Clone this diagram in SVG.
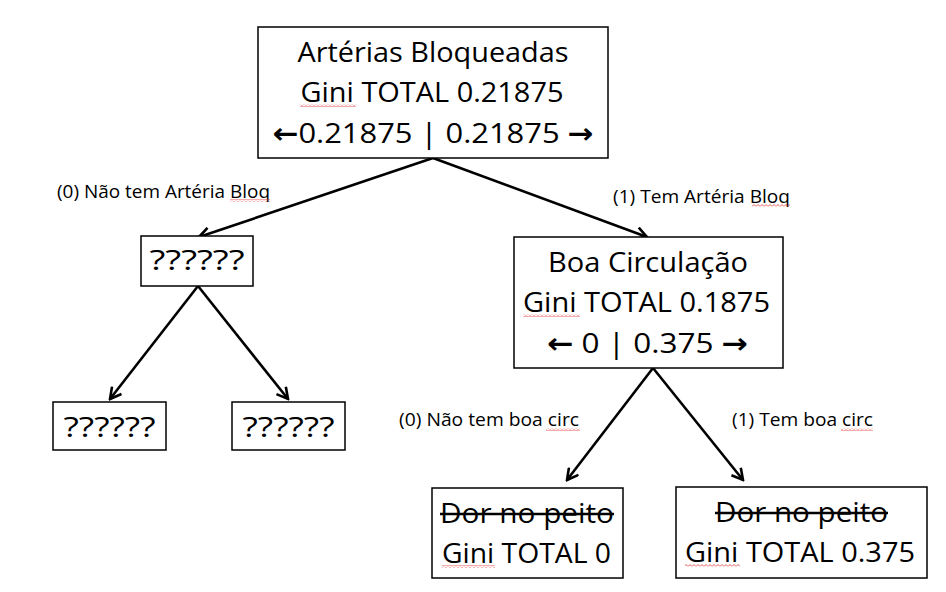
<svg xmlns="http://www.w3.org/2000/svg" width="946" height="592" viewBox="0 0 946 592">
<style>
.box{fill:#fff;stroke:#000;stroke-width:1.5}
.t{font-family:"Open Sans","Liberation Sans",sans-serif;font-size:28px;fill:#000;text-anchor:middle}
.l{font-family:"Open Sans","Liberation Sans",sans-serif;font-size:18px;fill:#000}
.ar{font-family:"DejaVu Sans",sans-serif;font-weight:bold;font-size:28px}
.c{fill:none;stroke:#000;stroke-width:2.6}
.strike{stroke:#000;stroke-width:2.4}
.wv{fill:url(#wavy)}
</style>
<defs>
<marker id="ah" markerWidth="14" markerHeight="14" refX="12" refY="7" orient="auto" markerUnits="userSpaceOnUse">
<path d="M1,1 L12,7 L1,13" fill="none" stroke="#000" stroke-width="2.6"/>
</marker>
<pattern id="wavy" width="4" height="3" patternUnits="userSpaceOnUse">
<path d="M0,2.5 L2,0.5 L4,2.5" fill="none" stroke="#e03030" stroke-width="0.8"/>
</pattern>
</defs>
<rect width="946" height="592" fill="#fff"/>
<g id="connectors">
<line class="c" x1="433" y1="158" x2="199" y2="237" marker-end="url(#ah)"/>
<line class="c" x1="433" y1="158" x2="647" y2="237" marker-end="url(#ah)"/>
<line class="c" x1="198" y1="286" x2="110" y2="399" marker-end="url(#ah)"/>
<line class="c" x1="198" y1="286" x2="288" y2="399" marker-end="url(#ah)"/>
<line class="c" x1="653" y1="368" x2="567" y2="480" marker-end="url(#ah)"/>
<line class="c" x1="653" y1="368" x2="743" y2="480" marker-end="url(#ah)"/>
<text class="l" x="57" y="198" textLength="213" lengthAdjust="spacingAndGlyphs">(0) Não tem Artéria Bloq</text>
<rect class="wv" x="230" y="199" width="40" height="3"/>
<text class="l" x="613" y="203" textLength="177" lengthAdjust="spacingAndGlyphs">(1) Tem Artéria Bloq</text>
<rect class="wv" x="752" y="204" width="38" height="3"/>
<text class="l" x="399" y="426" textLength="180" lengthAdjust="spacingAndGlyphs">(0) Não tem boa circ</text>
<rect class="wv" x="546" y="428" width="34" height="3"/>
<text class="l" x="732" y="426" textLength="141" lengthAdjust="spacingAndGlyphs">(1) Tem boa circ</text>
<rect class="wv" x="841" y="428" width="32" height="3"/>
</g>
<g id="root">
<rect class="box" x="258" y="27" width="350" height="131"/>
<text class="t" x="433" y="62" textLength="271" lengthAdjust="spacingAndGlyphs">Artérias Bloqueadas</text>
<text class="t" x="432" y="102" textLength="263" lengthAdjust="spacingAndGlyphs">Gini TOTAL 0.21875</text>
<rect class="wv" x="300" y="104" width="56" height="3"/>
<text class="t" x="433" y="143" textLength="321" lengthAdjust="spacingAndGlyphs"><tspan class="ar">←</tspan>0.21875 | 0.21875 <tspan class="ar">→</tspan></text>
</g>
<g id="unknown-top">
<rect class="box" x="141" y="236" width="112" height="50"/>
<text class="t" x="197" y="270" textLength="95" lengthAdjust="spacingAndGlyphs">??????</text>
</g>
<g id="unknown-left">
<rect class="box" x="53" y="402" width="113" height="48"/>
<text class="t" x="109.5" y="437" textLength="92" lengthAdjust="spacingAndGlyphs">??????</text>
</g>
<g id="unknown-right">
<rect class="box" x="232" y="402" width="113" height="48"/>
<text class="t" x="288.5" y="437" textLength="92" lengthAdjust="spacingAndGlyphs">??????</text>
</g>
<g id="boa-circulacao">
<rect class="box" x="514" y="237" width="269" height="131"/>
<text class="t" x="648" y="272" textLength="200" lengthAdjust="spacingAndGlyphs">Boa Circulação</text>
<text class="t" x="646.5" y="312" textLength="247" lengthAdjust="spacingAndGlyphs">Gini TOTAL 0.1875</text>
<rect class="wv" x="523" y="314" width="57" height="3"/>
<text class="t" x="647.5" y="353" textLength="201" lengthAdjust="spacingAndGlyphs"><tspan class="ar">←</tspan> 0 | 0.375 <tspan class="ar">→</tspan></text>
</g>
<g id="dor-left">
<rect class="box" x="432" y="488" width="191" height="90"/>
<text class="t" x="527" y="523" textLength="174" lengthAdjust="spacingAndGlyphs">Dor no peito</text>
<line class="strike" x1="440" y1="514" x2="614" y2="514"/>
<text class="t" x="526.5" y="563" textLength="169" lengthAdjust="spacingAndGlyphs">Gini TOTAL 0</text>
<rect class="wv" x="442" y="565" width="53" height="3"/>
</g>
<g id="dor-right">
<rect class="box" x="676" y="487" width="251" height="91"/>
<text class="t" x="801.5" y="522" textLength="173" lengthAdjust="spacingAndGlyphs">Dor no peito</text>
<line class="strike" x1="715" y1="513" x2="888" y2="513"/>
<text class="t" x="800" y="562" textLength="230" lengthAdjust="spacingAndGlyphs">Gini TOTAL 0.375</text>
<rect class="wv" x="685" y="564" width="55" height="3"/>
</g>
</svg>
